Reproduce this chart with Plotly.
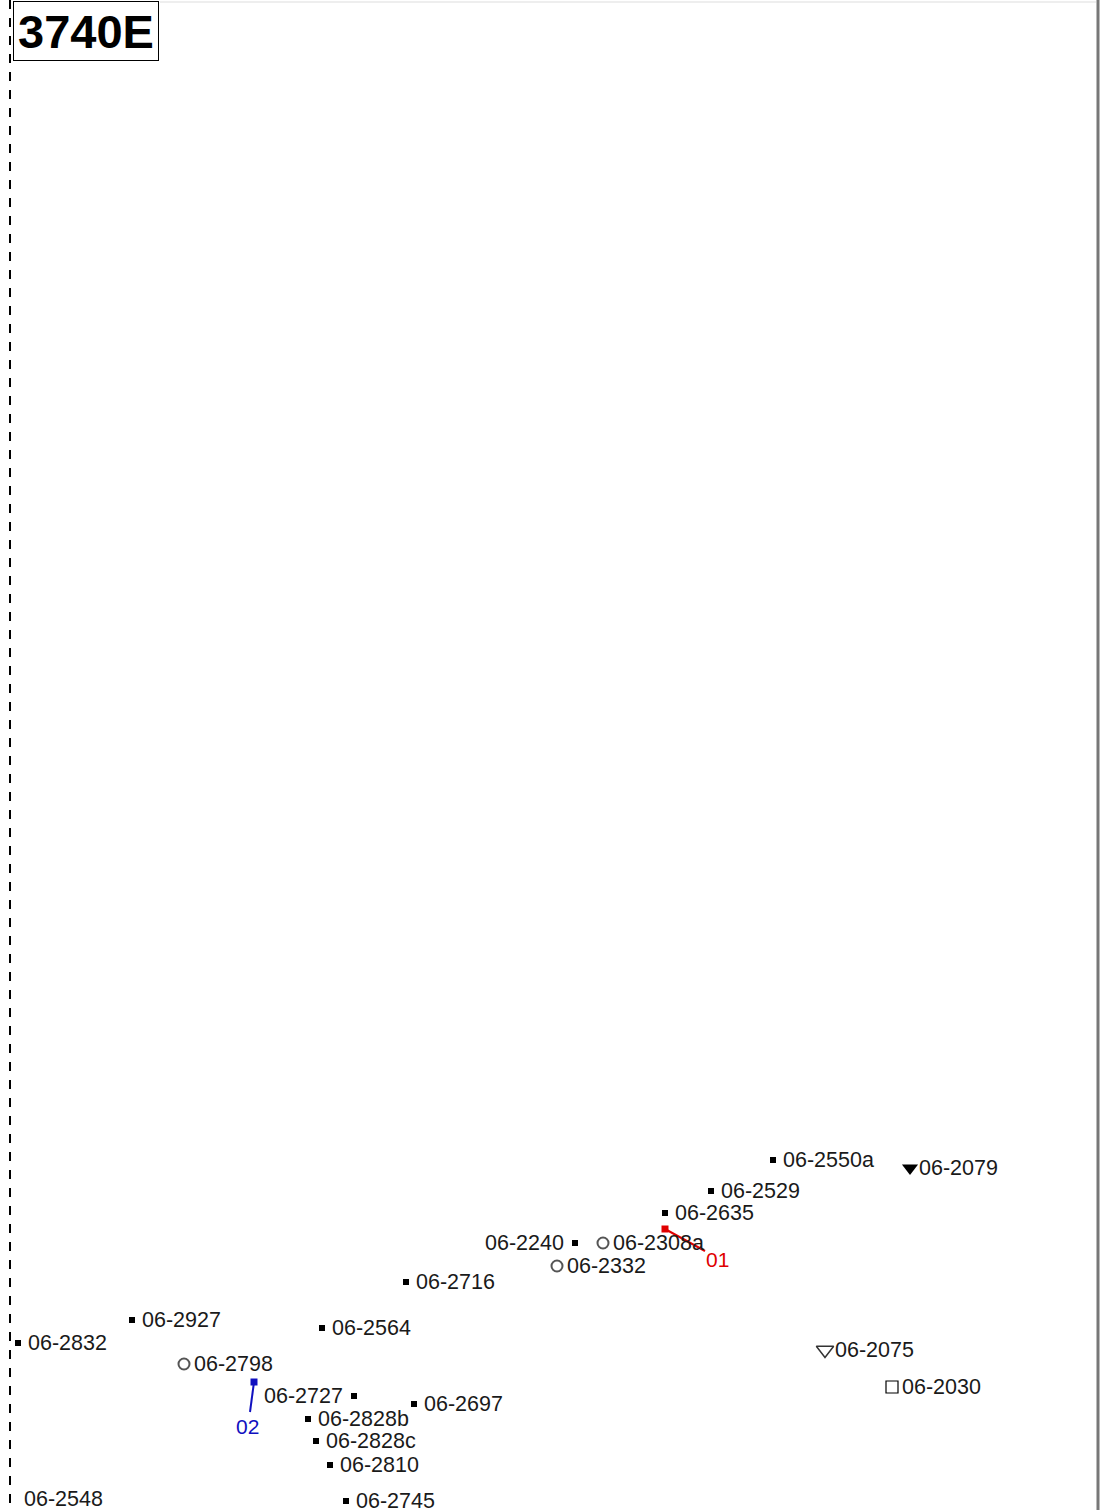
import plotly.graph_objects as go

# ---- data ----
names = ["06-2550a", "06-2079", "06-2529", "06-2635", "06-2240", "06-2308a", "06-2332",
         "06-2716", "06-2927", "06-2564", "06-2832", "06-2075", "06-2798", "06-2727",
         "06-2697", "06-2030", "06-2828b", "06-2828c", "06-2810", "06-2548", "06-2745"]
xs = [773, 910, 711, 665, 575, 603, 557, 406, 132, 322, 18, 825, 184, 354, 414, 892, 308, 316, 330, 14, 346]
ys = [1160, 1168, 1191, 1213, 1243, 1243, 1266, 1282, 1320, 1328, 1343, 1350, 1364, 1396, 1404, 1387, 1419, 1441, 1465, 1499, 1501]
kinds = ["sq", "tri", "sq", "sq", "sq", "circ", "circ", "sq", "sq", "sq", "sq", "otri", "circ", "sq",
         "sq", "osq", "sq", "sq", "sq", "none", "sq"]
sides = ["r", "r", "r", "r", "l", "r", "r", "r", "r", "r", "r", "r", "r", "l",
         "r", "r", "r", "r", "r", "r", "r"]

# highlighted points with leader lines
hl_names = ["01", "02"]
hl_x = [665, 254]
hl_y = [1229, 1382]
hl_lx = [705, 250]
hl_ly = [1251, 1412]
hl_colors = ["#e00000", "#1010c0"]

title_text = "3740E"

W, H = 1101, 1510

styles = {
    "sq": dict(symbol="square", size=6, color="#000000", line=dict(width=0)),
    "tri": dict(symbol="triangle-down", size=14, color="#000000", line=dict(width=0)),
    "circ": dict(symbol="circle-open", size=11, color="#555555", line=dict(width=2)),
    "otri": dict(symbol="triangle-down-open", size=15, color="#333333", line=dict(width=1.5)),
    "osq": dict(symbol="square-open", size=12, color="#000000", line=dict(width=1.2)),
}

fig = go.Figure()
for k, st in styles.items():
    idx = [i for i, kk in enumerate(kinds) if kk == k]
    fig.add_trace(go.Scatter(
        x=[xs[i] for i in idx], y=[ys[i] for i in idx], mode="markers",
        marker=st, hoverinfo="skip", showlegend=False))

font = dict(family="Liberation Sans, Arial, sans-serif", size=21.5, color="#1a1a1a")
offsets = {"sq": 8, "tri": 7, "circ": 8, "otri": 8, "osq": 8, "none": 8}
for n, x, y, k, s in zip(names, xs, ys, kinds, sides):
    if s == "r":
        fig.add_annotation(x=x + offsets[k], y=y, text=n, showarrow=False,
                           xanchor="left", yanchor="middle", font=font)
    else:
        fig.add_annotation(x=x - 9, y=y, text=n, showarrow=False,
                           xanchor="right", yanchor="middle", font=font)

for n, x, y, lx, ly, c in zip(hl_names, hl_x, hl_y, hl_lx, hl_ly, hl_colors):
    fig.add_trace(go.Scatter(x=[x, lx], y=[y, ly], mode="lines", line=dict(color=c, width=2),
                             hoverinfo="skip", showlegend=False))
    fig.add_trace(go.Scatter(x=[x], y=[y], mode="markers",
                             marker=dict(symbol="square", size=7, color=c),
                             hoverinfo="skip", showlegend=False))
    fig.add_annotation(x=lx - 3 if lx < 300 else lx - 1, y=ly + (14 if lx < 300 else 8), text=n,
                       showarrow=False,
                       xanchor="left" if lx > 300 else "center", yanchor="middle",
                       font=dict(family="Liberation Sans, Arial, sans-serif", size=21, color=c))

# frame lines
fig.add_shape(type="line", x0=10, x1=10, y0=0, y1=H, line=dict(color="#000000", width=2, dash="dash"))
fig.add_shape(type="line", x0=1098, x1=1098, y0=0, y1=H, line=dict(color="#777777", width=3))
fig.add_shape(type="line", x0=160, x1=1096, y0=2, y1=2, line=dict(color="#eeeeee", width=2))

# title box
fig.add_annotation(x=86, y=31, text="<b>" + title_text + "</b>", showarrow=False,
                   xanchor="center", yanchor="middle",
                   font=dict(family="Liberation Sans, Arial, sans-serif", size=47, color="#000000"),
                   bordercolor="#000000", borderwidth=1, borderpad=2, bgcolor="#ffffff",
                   width=140, height=54)

fig.update_layout(
    width=W, height=H, margin=dict(l=0, r=0, t=0, b=0),
    paper_bgcolor="#ffffff", plot_bgcolor="#ffffff",
    xaxis=dict(range=[0, W], visible=False, fixedrange=True),
    yaxis=dict(range=[H, 0], visible=False, fixedrange=True),
)
fig.write_html("out.html", config={"displayModeBar": False},
               post_script="document.body.style.margin='0px';document.body.style.overflow='hidden';")
